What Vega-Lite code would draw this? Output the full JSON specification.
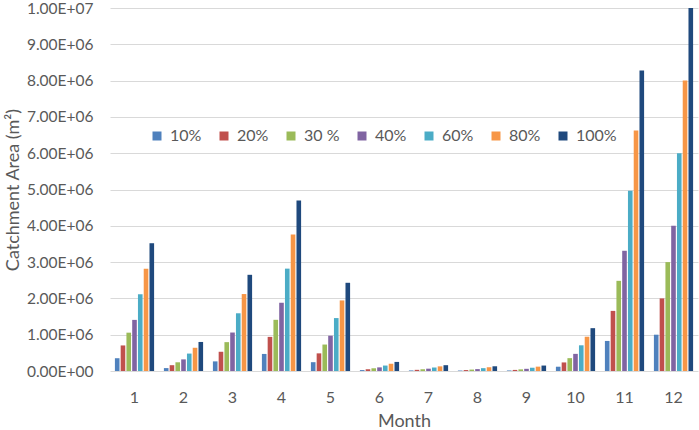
{
  "$schema": "https://vega.github.io/schema/vega-lite/v6.json",
  "width": 588,
  "height": 363,
  "autosize": {"type": "none"},
  "padding": {"left": 110, "top": 8, "right": 1, "bottom": 59},
  "background": "white",
  "config": {
    "font": "Lato",
    "view": {"stroke": null}
  },
  "data": {
    "values": [
      {"month": 1, "series": "10%", "area": 352000},
      {"month": 1, "series": "20%", "area": 704000},
      {"month": 1, "series": "30 %", "area": 1056000},
      {"month": 1, "series": "40%", "area": 1408000},
      {"month": 1, "series": "60%", "area": 2112000},
      {"month": 1, "series": "80%", "area": 2816000},
      {"month": 1, "series": "100%", "area": 3520000},
      {"month": 2, "series": "10%", "area": 80000},
      {"month": 2, "series": "20%", "area": 160000},
      {"month": 2, "series": "30 %", "area": 240000},
      {"month": 2, "series": "40%", "area": 320000},
      {"month": 2, "series": "60%", "area": 480000},
      {"month": 2, "series": "80%", "area": 640000},
      {"month": 2, "series": "100%", "area": 800000},
      {"month": 3, "series": "10%", "area": 265000},
      {"month": 3, "series": "20%", "area": 530000},
      {"month": 3, "series": "30 %", "area": 795000},
      {"month": 3, "series": "40%", "area": 1060000},
      {"month": 3, "series": "60%", "area": 1590000},
      {"month": 3, "series": "80%", "area": 2120000},
      {"month": 3, "series": "100%", "area": 2650000},
      {"month": 4, "series": "10%", "area": 470000},
      {"month": 4, "series": "20%", "area": 940000},
      {"month": 4, "series": "30 %", "area": 1410000},
      {"month": 4, "series": "40%", "area": 1880000},
      {"month": 4, "series": "60%", "area": 2820000},
      {"month": 4, "series": "80%", "area": 3760000},
      {"month": 4, "series": "100%", "area": 4700000},
      {"month": 5, "series": "10%", "area": 243000},
      {"month": 5, "series": "20%", "area": 486000},
      {"month": 5, "series": "30 %", "area": 729000},
      {"month": 5, "series": "40%", "area": 972000},
      {"month": 5, "series": "60%", "area": 1458000},
      {"month": 5, "series": "80%", "area": 1944000},
      {"month": 5, "series": "100%", "area": 2430000},
      {"month": 6, "series": "10%", "area": 25000},
      {"month": 6, "series": "20%", "area": 50000},
      {"month": 6, "series": "30 %", "area": 75000},
      {"month": 6, "series": "40%", "area": 100000},
      {"month": 6, "series": "60%", "area": 150000},
      {"month": 6, "series": "80%", "area": 200000},
      {"month": 6, "series": "100%", "area": 250000},
      {"month": 7, "series": "10%", "area": 16000},
      {"month": 7, "series": "20%", "area": 32000},
      {"month": 7, "series": "30 %", "area": 48000},
      {"month": 7, "series": "40%", "area": 64000},
      {"month": 7, "series": "60%", "area": 96000},
      {"month": 7, "series": "80%", "area": 128000},
      {"month": 7, "series": "100%", "area": 160000},
      {"month": 8, "series": "10%", "area": 13000},
      {"month": 8, "series": "20%", "area": 26000},
      {"month": 8, "series": "30 %", "area": 39000},
      {"month": 8, "series": "40%", "area": 52000},
      {"month": 8, "series": "60%", "area": 78000},
      {"month": 8, "series": "80%", "area": 104000},
      {"month": 8, "series": "100%", "area": 130000},
      {"month": 9, "series": "10%", "area": 15000},
      {"month": 9, "series": "20%", "area": 30000},
      {"month": 9, "series": "30 %", "area": 45000},
      {"month": 9, "series": "40%", "area": 60000},
      {"month": 9, "series": "60%", "area": 90000},
      {"month": 9, "series": "80%", "area": 120000},
      {"month": 9, "series": "100%", "area": 150000},
      {"month": 10, "series": "10%", "area": 118000},
      {"month": 10, "series": "20%", "area": 236000},
      {"month": 10, "series": "30 %", "area": 354000},
      {"month": 10, "series": "40%", "area": 472000},
      {"month": 10, "series": "60%", "area": 708000},
      {"month": 10, "series": "80%", "area": 944000},
      {"month": 10, "series": "100%", "area": 1180000},
      {"month": 11, "series": "10%", "area": 828000},
      {"month": 11, "series": "20%", "area": 1656000},
      {"month": 11, "series": "30 %", "area": 2484000},
      {"month": 11, "series": "40%", "area": 3312000},
      {"month": 11, "series": "60%", "area": 4968000},
      {"month": 11, "series": "80%", "area": 6624000},
      {"month": 11, "series": "100%", "area": 8280000},
      {"month": 12, "series": "10%", "area": 1000000},
      {"month": 12, "series": "20%", "area": 2000000},
      {"month": 12, "series": "30 %", "area": 3000000},
      {"month": 12, "series": "40%", "area": 4000000},
      {"month": 12, "series": "60%", "area": 6000000},
      {"month": 12, "series": "80%", "area": 8000000},
      {"month": 12, "series": "100%", "area": 10000000}
    ]
  },
  "mark": {"type": "bar"},
  "encoding": {
    "x": {
      "field": "month",
      "type": "ordinal",
      "scale": {"paddingInner": 0.2, "paddingOuter": 0.1},
      "axis": {
        "title": "Month",
        "labelAngle": 0,
        "labelFontSize": 16,
        "labelColor": "#595959",
        "labelPadding": 18,
        "titleFontSize": 18,
        "titleFontWeight": "normal",
        "titleColor": "#595959",
        "titlePadding": 7,
        "ticks": false,
        "domain": false,
        "grid": false
      }
    },
    "xOffset": {
      "field": "series",
      "type": "nominal",
      "sort": ["10%", "20%", "30 %", "40%", "60%", "80%", "100%"],
      "scale": {"paddingInner": 0.2}
    },
    "y": {
      "field": "area",
      "type": "quantitative",
      "scale": {"domain": [0, 10000000], "nice": false},
      "axis": {
        "title": "Catchment Area (m²)",
        "values": [0, 1000000, 2000000, 3000000, 4000000, 5000000, 6000000, 7000000, 8000000, 9000000, 10000000],
        "labelExpr": "replace(upper(format(datum.value, '.2e')), regexp('E\\\\+(\\\\d)$'), 'E+0$1')",
        "labelOverlap": false,
        "labelFontSize": 15.5,
        "labelColor": "#595959",
        "labelPadding": 17,
        "titleFontSize": 18,
        "titleFontWeight": "normal",
        "titleColor": "#595959",
        "titlePadding": 4,
        "ticks": false,
        "domain": false,
        "grid": true,
        "gridColor": "#D9D9D9",
        "gridWidth": 1
      }
    },
    "color": {
      "field": "series",
      "type": "nominal",
      "sort": ["10%", "20%", "30 %", "40%", "60%", "80%", "100%"],
      "scale": {
        "domain": ["10%", "20%", "30 %", "40%", "60%", "80%", "100%"],
        "range": ["#4F81BD", "#C0504D", "#9BBB59", "#8064A2", "#4BACC6", "#F79646", "#1F497D"]
      },
      "legend": {
        "orient": "none",
        "legendX": 39,
        "legendY": 120,
        "direction": "horizontal",
        "title": null,
        "symbolType": "square",
        "symbolSize": 81,
        "symbolStrokeWidth": 0,
        "labelFontSize": 16,
        "labelColor": "#595959",
        "labelOffset": 5,
        "columnPadding": 14
      }
    }
  }
}
